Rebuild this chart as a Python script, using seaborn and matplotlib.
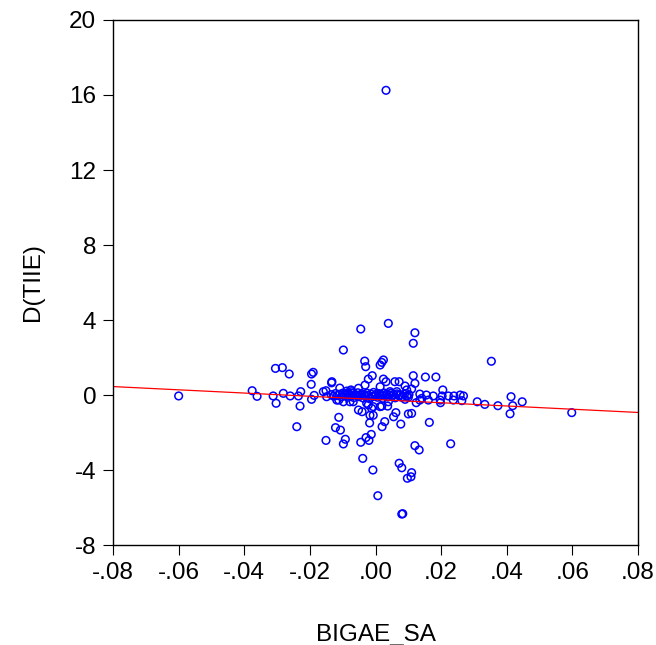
import matplotlib
matplotlib.use("Agg")
import matplotlib.pyplot as plt
from matplotlib.ticker import FixedLocator, FuncFormatter
import pandas as pd
import seaborn as sns

# scatter values (BIGAE_SA vs D(TIIE))
bigae_sa = [
    -0.0600, 0.0032, 0.0598, 0.0353, -0.0376, -0.0361, -0.0312, -0.0303,
    -0.0305, -0.0284, -0.0263, -0.0281, -0.0260, -0.0240, -0.0230, -0.0228,
    -0.0235, -0.0196, -0.0195, -0.0190, -0.0195, -0.0187, -0.0159, -0.0151,
    -0.0133, -0.0134, -0.0149, -0.0109, -0.0098, -0.0045, 0.0039, -0.0033,
    -0.0030, -0.0112, -0.0122, -0.0107, -0.0151, -0.0098, -0.0092, -0.0045,
    -0.0039, -0.0029, -0.0020, -0.0013, -0.0052, -0.0041, -0.0017, -0.0007,
    -0.0018, -0.0052, -0.0075, -0.0084, -0.0098, -0.0078, -0.0068, -0.0118,
    -0.0032, -0.0022, 0.0014, 0.0019, 0.0024, -0.0010, 0.0024, 0.0032,
    0.0059, 0.0072, 0.0090, 0.0014, -0.0088, -0.0073, 0.0044, 0.0065,
    0.0095, 0.0120, 0.0115, 0.0115, 0.0152, 0.0184, 0.0120, 0.0110,
    0.0205, 0.0135, 0.0155, 0.0176, 0.0203, 0.0222, 0.0239, 0.0258,
    0.0268, 0.0310, 0.0333, 0.0373, 0.0124, 0.0135, 0.0141, 0.0161,
    0.0197, 0.0198, 0.0237, 0.0263, 0.0080, 0.0090, 0.0100, 0.0413,
    0.0418, 0.0447, 0.0410, 0.0164, 0.0229, 0.0120, 0.0133, 0.0072,
    0.0080, 0.0110, 0.0108, 0.0097, 0.0080, 0.0083, 0.0007, -0.0008,
    0.0020, 0.0028, 0.0077, 0.0055, 0.0062, 0.0100, 0.0110, -0.0012,
    -0.0007, 0.0014, 0.0019, 0.0037, -0.0027, -0.0022, -0.0112, 0.0039,
    # dense band around zero
    -0.0135, -0.0128, -0.0122, -0.0117, -0.0110, -0.0104, -0.0100, -0.0094,
    -0.0090, -0.0085, -0.0080, -0.0076, -0.0071, -0.0066, -0.0062, -0.0058,
    -0.0054, -0.0050, -0.0046, -0.0042, -0.0038, -0.0034, -0.0030, -0.0026,
    -0.0022, -0.0018, -0.0014, -0.0010, -0.0006, -0.0002, 0.0002, 0.0006,
    0.0010, 0.0014, 0.0018, 0.0022, 0.0026, 0.0030, 0.0034, 0.0038,
    0.0042, 0.0046, 0.0050, 0.0055, 0.0060, 0.0065, 0.0070, 0.0075,
    0.0082, 0.0088, 0.0095, 0.0102,
]
d_tiie = [
    -0.05, 16.25, -0.94, 1.80, 0.23, -0.07, -0.05, -0.44,
    1.42, 1.46, 1.12, 0.09, -0.05, -1.69, -0.59, 0.18,
    -0.05, 0.57, 1.12, 1.21, -0.23, -0.02, 0.18, 0.23,
    0.71, 0.65, -0.09, 0.37, 2.40, 3.52, 3.82, 1.81,
    1.51, -1.19, -1.74, -1.87, -2.42, -2.61, -2.36, -2.52,
    -3.38, -2.27, -2.42, -2.10, -0.80, -0.89, -1.08, -1.08,
    -1.49, 0.36, 0.27, 0.12, -0.36, -0.36, -0.36, -0.27,
    0.53, 0.85, 1.60, 1.74, 1.87, 1.03, 0.85, 0.71,
    0.71, 0.71, 0.48, 0.44, 0.21, 0.18, 0.18, 0.18,
    0.27, 3.32, 2.76, 1.03, 0.96, 0.96, 0.62, 0.32,
    0.27, 0.05, 0.00, -0.05, -0.05, -0.05, -0.05, 0.00,
    -0.05, -0.36, -0.50, -0.57, -0.41, -0.27, -0.18, -0.27,
    -0.27, -0.41, -0.27, -0.30, -0.12, -0.23, -0.12, -0.09,
    -0.57, -0.36, -1.00, -1.46, -2.60, -2.70, -2.93, -3.64,
    -3.88, -4.14, -4.36, -4.44, -6.35, -6.33, -5.37, -4.00,
    -1.69, -1.42, -1.55, -1.16, -0.94, -1.01, -0.98, -0.71,
    -0.62, -0.62, -0.59, -0.59, -0.44, -0.53, -0.27, -0.36,
    0.02, -0.06, 0.08, -0.03, 0.04, -0.10, 0.10, -0.02,
    0.06, -0.12, 0.02, -0.06, 0.09, -0.14, 0.03, -0.04,
    0.12, -0.09, 0.00, 0.07, -0.16, 0.03, -0.06, 0.10,
    -0.02, -0.20, 0.05, -0.08, 0.14, -0.03, 0.04, -0.12,
    0.08, -0.05, 0.02, -0.18, 0.11, -0.04, 0.05, -0.10,
    0.00, 0.09, -0.07, 0.03, -0.15, 0.06, -0.03, 0.01,
    -0.08, 0.04, -0.05, 0.02,
]

# fitted regression line, read at the two axis edges
fit_x = [-0.08, 0.08]
fit_y = [0.45, -0.93]

x_ticks = [-0.08, -0.06, -0.04, -0.02, 0.00, 0.02, 0.04, 0.06, 0.08]
y_ticks = [-8, -4, 0, 4, 8, 12, 16, 20]

sns.set_style("white")
plt.rcParams['font.family'] = ['Liberation Sans', 'DejaVu Sans']
plt.rcParams['axes.unicode_minus'] = False
plt.rcParams['text.color'] = 'black'
plt.rcParams['axes.labelcolor'] = 'black'
plt.rcParams['xtick.color'] = 'black'
plt.rcParams['ytick.color'] = 'black'

df = pd.DataFrame({'BIGAE_SA': bigae_sa, 'D(TIIE)': d_tiie})
line_df = pd.DataFrame({'x': fit_x, 'y': fit_y})

fig = plt.figure(figsize=(6.56, 6.45), dpi=100)
ax = fig.add_axes([0.1723, 0.155, 0.8003, 0.814])

sns.lineplot(data=line_df, x='x', y='y', color='#ff0000', linewidth=0.9, ax=ax)
sns.scatterplot(data=df, x='BIGAE_SA', y='D(TIIE)', marker='o', s=30,
                facecolors='none', edgecolor='#0000ff', linewidth=1.1, ax=ax)

ax.set_xlim(-0.08, 0.08)
ax.set_ylim(-8, 20)
ax.xaxis.set_major_locator(FixedLocator(x_ticks))
ax.yaxis.set_major_locator(FixedLocator(y_ticks))


def fmt_x(v, pos):
    s = f"{round(v, 2):.2f}"
    if s == "-0.00":
        s = "0.00"
    return s.replace("0.", ".", 1)


ax.xaxis.set_major_formatter(FuncFormatter(fmt_x))
ax.tick_params(axis='both', which='major', direction='out', length=7,
               width=0.8, colors='black', labelsize=17.5, pad=5,
               left=True, bottom=True, top=False, right=False)

for sp in ax.spines.values():
    sp.set_color('black')
    sp.set_linewidth(1.0)

ax.set_xlabel('BIGAE_SA', fontsize=17.5, color='black')
ax.set_ylabel('D(TIIE)', fontsize=17.5, color='black')
ax.xaxis.set_label_coords(0.5, -0.150)
ax.yaxis.set_label_coords(-0.131, 0.5)

fig.savefig('out.png', dpi=100)
